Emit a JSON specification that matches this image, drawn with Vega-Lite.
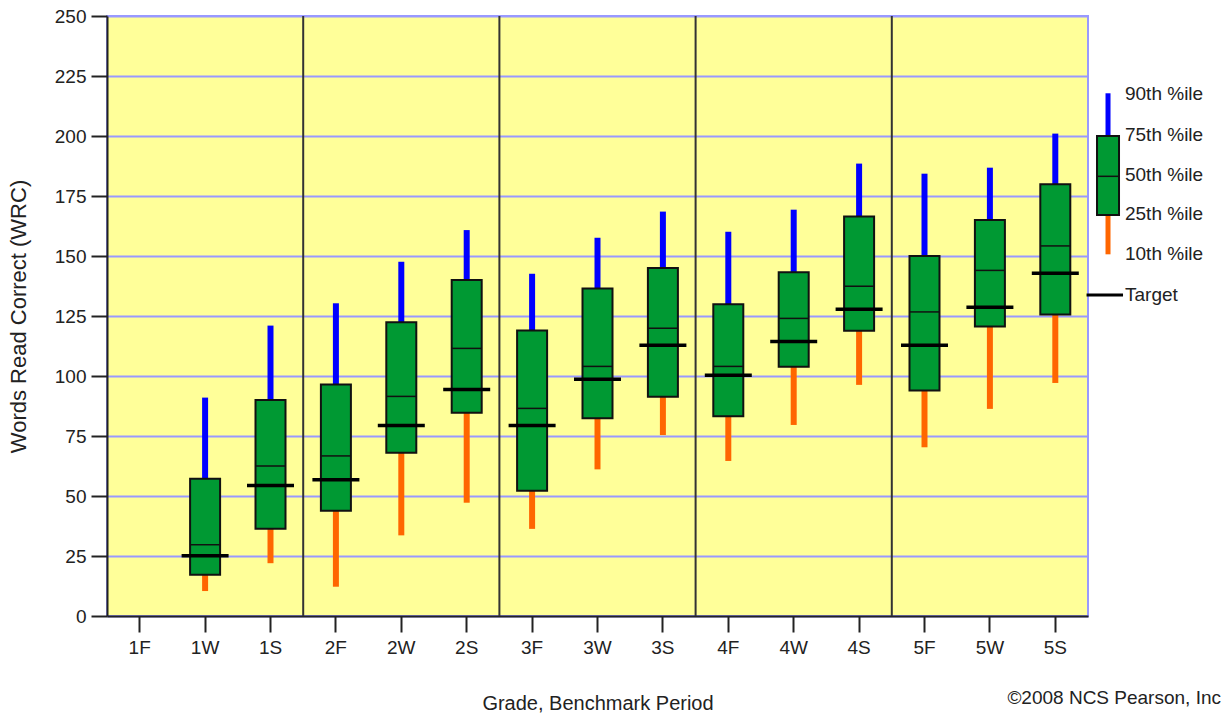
{
  "$schema": "https://vega.github.io/schema/vega-lite/v6.json",
  "width": 981,
  "height": 600,
  "autosize": {"type": "none"},
  "padding": {"left": 107, "top": 16, "right": 133, "bottom": 101},
  "background": "white",
  "title": {
    "text": "©2008 NCS Pearson, Inc",
    "orient": "bottom",
    "anchor": "end",
    "frame": "group",
    "dx": 133,
    "offset": -24,
    "font": "Liberation Sans",
    "fontSize": 19,
    "fontWeight": "normal",
    "color": "#222222"
  },
  "config": {
    "view": {"fill": "#ffff99", "stroke": "#9999ff", "strokeWidth": 2},
    "font": "Liberation Sans",
    "text": {"font": "Liberation Sans"}
  },
  "datasets": {
    "stats": [
      {"period": "1F", "p10": null, "p25": null, "p50": null, "p75": null, "p90": null, "target": null},
      {"period": "1W", "p10": 10.4, "p25": 17.2, "p50": 29.7, "p75": 57.2, "p90": 91, "target": 25.1},
      {"period": "1S", "p10": 22, "p25": 36.4, "p50": 62.5, "p75": 90, "p90": 121, "target": 54.4},
      {"period": "2F", "p10": 12.2, "p25": 43.9, "p50": 66.7, "p75": 96.5, "p90": 130.3, "target": 56.8},
      {"period": "2W", "p10": 33.6, "p25": 68, "p50": 91.5, "p75": 122.4, "p90": 147.6, "target": 79.4},
      {"period": "2S", "p10": 47.2, "p25": 84.7, "p50": 111.5, "p75": 140, "p90": 160.8, "target": 94.4},
      {"period": "3F", "p10": 36.3, "p25": 52.2, "p50": 86.5, "p75": 119, "p90": 142.6, "target": 79.4},
      {"period": "3W", "p10": 61.1, "p25": 82.4, "p50": 104, "p75": 136.5, "p90": 157.6, "target": 98.6},
      {"period": "3S", "p10": 75.4, "p25": 91.4, "p50": 119.9, "p75": 145, "p90": 168.5, "target": 112.8},
      {"period": "4F", "p10": 64.6, "p25": 83.2, "p50": 104, "p75": 129.9, "p90": 160.1, "target": 100.3},
      {"period": "4W", "p10": 79.6, "p25": 103.9, "p50": 124, "p75": 143.2, "p90": 169.3, "target": 114.4},
      {"period": "4S", "p10": 96.3, "p25": 118.9, "p50": 137.4, "p75": 166.5, "p90": 188.5, "target": 127.8},
      {"period": "5F", "p10": 70.3, "p25": 94, "p50": 126.7, "p75": 150, "p90": 184.3, "target": 112.8},
      {"period": "5W", "p10": 86.3, "p25": 120.6, "p50": 144, "p75": 165, "p90": 186.8, "target": 128.6},
      {"period": "5S", "p10": 97.1, "p25": 125.6, "p50": 154.2, "p75": 179.9, "p90": 201, "target": 142.8}
    ],
    "dividers": [
      {"period": "1S"}, {"period": "2S"}, {"period": "3S"}, {"period": "4S"}
    ],
    "legendGlyph": [
      {"lx": 1.0204, "p10": 150.7, "p25": 167.1, "p50": 183.2, "p75": 200, "p90": 217.8}
    ],
    "legendLabels": [
      {"label": "90th %ile", "lx": 1.0377, "ly": 217.5},
      {"label": "75th %ile", "lx": 1.0377, "ly": 200.5},
      {"label": "50th %ile", "lx": 1.0377, "ly": 183.8},
      {"label": "25th %ile", "lx": 1.0377, "ly": 167.3},
      {"label": "10th %ile", "lx": 1.0377, "ly": 151},
      {"label": "Target", "lx": 1.0377, "ly": 133.8}
    ],
    "legendTarget": [
      {"x1": 0.9985, "x2": 1.0357, "ly": 133.75}
    ]
  },
  "resolve": {"scale": {"x": "independent"}},
  "layer": [
    {
      "encoding": {
        "x": {
          "field": "period",
          "type": "nominal",
          "sort": null,
          "scale": {
            "type": "band",
            "domain": ["1F", "1W", "1S", "2F", "2W", "2S", "3F", "3W", "3S", "4F", "4W", "4S", "5F", "5W", "5S"],
            "paddingInner": 0,
            "paddingOuter": 0
          },
          "axis": {
            "title": "Grade, Benchmark Period",
            "titleFont": "Liberation Sans",
            "titleFontSize": 20,
            "titleFontWeight": "normal",
            "titleColor": "#222222",
            "titlePadding": 36,
            "labelAngle": 0,
            "labelFont": "Liberation Sans",
            "labelFontSize": 19,
            "labelColor": "#222222",
            "labelPadding": 6,
            "tickSize": 16,
            "tickWidth": 2,
            "tickColor": "#222222",
            "bandPosition": 0.5,
            "domainColor": "#222222",
            "domainWidth": 2,
            "grid": false
          }
        }
      },
      "layer": [
        {
          "data": {"name": "dividers"},
          "mark": {"type": "rule", "color": "#333333", "strokeWidth": 2},
          "encoding": {
            "x": {"field": "period", "type": "nominal", "bandPosition": 1}
          }
        },
        {
          "data": {"name": "stats"},
          "layer": [
            {
              "mark": {"type": "rule", "color": "#0000ff", "strokeWidth": 6},
              "encoding": {
                "y": {
                  "field": "p75",
                  "type": "quantitative",
                  "scale": {"domain": [0, 250], "nice": false},
                  "axis": {
                    "title": "Words Read Correct (WRC)",
                    "titleFont": "Liberation Sans",
                    "titleFontSize": 22,
                    "titleFontWeight": "normal",
                    "titleColor": "#222222",
                    "titlePadding": 24,
                    "values": [0, 25, 50, 75, 100, 125, 150, 175, 200, 225, 250],
                    "labelFont": "Liberation Sans",
                    "labelFontSize": 19,
                    "labelColor": "#222222",
                    "labelPadding": 5,
                    "tickSize": 16,
                    "tickWidth": 2,
                    "tickColor": "#222222",
                    "domainColor": "#222222",
                    "domainWidth": 2,
                    "grid": true,
                    "gridColor": "#9999ff",
                    "gridWidth": 2,
                    "gridOpacity": 1
                  }
                },
                "y2": {"field": "p90"}
              }
            },
            {
              "mark": {"type": "rule", "color": "#ff6600", "strokeWidth": 6},
              "encoding": {
                "y": {"field": "p10", "type": "quantitative"},
                "y2": {"field": "p25"}
              }
            },
            {
              "mark": {"type": "bar", "width": 30, "fill": "#009933", "stroke": "#111111", "strokeWidth": 2},
              "encoding": {
                "y": {"field": "p25", "type": "quantitative"},
                "y2": {"field": "p75"}
              }
            },
            {
              "mark": {"type": "tick", "size": 30, "thickness": 1.5, "color": "#111111", "opacity": 1},
              "encoding": {
                "y": {"field": "p50", "type": "quantitative"}
              }
            },
            {
              "mark": {"type": "tick", "size": 47, "thickness": 3.5, "color": "#000000", "opacity": 1},
              "encoding": {
                "y": {"field": "target", "type": "quantitative"}
              }
            }
          ]
        }
      ]
    },
    {
      "layer": [
        {
          "data": {"name": "legendGlyph"},
          "layer": [
            {
              "mark": {"type": "rule", "color": "#0000ff", "strokeWidth": 5},
              "encoding": {
                "x": {"field": "lx", "type": "quantitative", "scale": {"domain": [0, 1], "nice": false, "zero": false, "padding": 0}, "axis": null},
                "y": {"field": "p75", "type": "quantitative"},
                "y2": {"field": "p90"}
              }
            },
            {
              "mark": {"type": "rule", "color": "#ff6600", "strokeWidth": 5},
              "encoding": {
                "x": {"field": "lx", "type": "quantitative"},
                "y": {"field": "p10", "type": "quantitative"},
                "y2": {"field": "p25"}
              }
            },
            {
              "mark": {"type": "bar", "width": 22, "fill": "#009933", "stroke": "#111111", "strokeWidth": 2, "orient": "vertical"},
              "encoding": {
                "x": {"field": "lx", "type": "quantitative"},
                "y": {"field": "p25", "type": "quantitative"},
                "y2": {"field": "p75"}
              }
            },
            {
              "mark": {"type": "tick", "orient": "horizontal", "size": 22, "thickness": 1.5, "color": "#111111", "opacity": 1},
              "encoding": {
                "x": {"field": "lx", "type": "quantitative"},
                "y": {"field": "p50", "type": "quantitative"}
              }
            }
          ]
        },
        {
          "data": {"name": "legendTarget"},
          "mark": {"type": "rule", "color": "#000000", "strokeWidth": 3},
          "encoding": {
            "x": {"field": "x1", "type": "quantitative"},
            "x2": {"field": "x2"},
            "y": {"field": "ly", "type": "quantitative"}
          }
        },
        {
          "data": {"name": "legendLabels"},
          "mark": {"type": "text", "align": "left", "baseline": "middle", "font": "Liberation Sans", "fontSize": 19, "color": "#222222"},
          "encoding": {
            "x": {"field": "lx", "type": "quantitative"},
            "y": {"field": "ly", "type": "quantitative"},
            "text": {"field": "label", "type": "nominal"}
          }
        }
      ]
    }
  ]
}
